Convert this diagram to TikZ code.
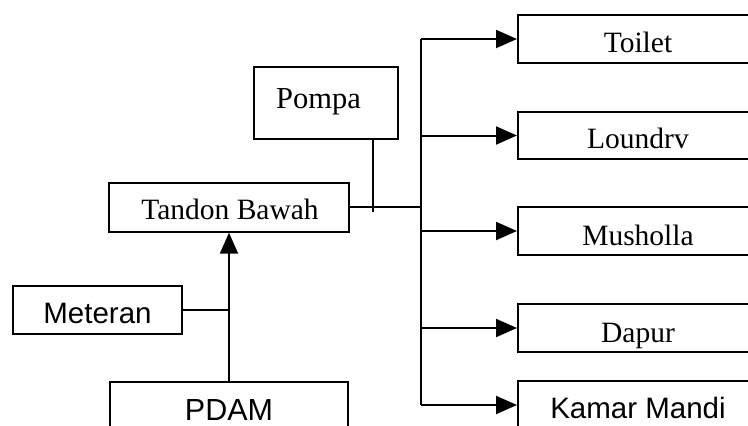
\documentclass[tikz,border=0pt]{standalone}
\usepackage{fontspec}
\setmainfont{Liberation Serif}
\newfontfamily\sansf{Liberation Sans}
\usetikzlibrary{arrows.meta}
\begin{document}
\begin{tikzpicture}[x=1pt,y=-1pt,
  box/.style={draw, line width=2pt, inner sep=0pt, rectangle},
  lbl/.style={anchor=base, inner sep=0pt, font=\fontsize{29.5}{31}\selectfont},
  slbl/.style={anchor=base, inner sep=0pt, font=\sansf\fontsize{29.5}{31}\selectfont},
  conn/.style={line width=2pt},
  arr/.style={conn, -{Triangle[length=21pt,width=18pt]}}]
\path[use as bounding box, clip] (0,0) rectangle (748,426);
\fill[white] (0,0) rectangle (748,426);

% boxes on the right (cut off by the page edge)
\node[box, minimum width=240pt, minimum height=48pt] (toilet) at (638,39) {};
\node[box, minimum width=240pt, minimum height=47.5pt] (loundry) at (638,135.5) {};
\node[box, minimum width=240pt, minimum height=48pt] (musholla) at (638,231) {};
\node[box, minimum width=240pt, minimum height=48pt] (dapur) at (638,328) {};
\node[box, minimum width=240pt, minimum height=48pt] (kamar) at (638,405) {};

% left boxes
\node[box, minimum width=144pt, minimum height=72pt] (pompa) at (326,103) {};
\node[box, minimum width=240pt, minimum height=49pt] (tandon) at (229,207.2) {};
\node[box, minimum width=169.6pt, minimum height=48.3pt] (meteran) at (97.5,310) {};
\node[box, minimum width=238pt, minimum height=48pt] (pdam) at (229,406) {};

% texts
\node[lbl] (ttoilet) at (638,52) {Toilet};
\node[lbl] (tloundry) at (638,148) {Loundrv};
\node[lbl] (tmusholla) at (638,245) {Musholla};
\node[lbl] (tdapur) at (638,342) {Dapur};
\node[slbl] (tkamar) at (638,418) {Kamar Mandi};
\node[lbl, font=\fontsize{30.5}{32}\selectfont] (tpompa) at (318.5,108) {Pompa};
\node[lbl] (ttandon) at (230,219) {Tandon Bawah};
\node[slbl] (tmeteran) at (97.5,323) {Meteran};
\node[slbl, font=\sansf\fontsize{30.5}{32}\selectfont] (tpdam) at (229,420) {PDAM};

% connectors
\coordinate (bus) at (421,207.2);
\coordinate (pj) at (373,212);
\draw[conn] (tandon.east) -- (bus);
\draw[conn] (bus |- toilet.west) -- (bus |- kamar.west);
\draw[conn] (pompa.south -| pj) -- (pj);
\foreach \n in {toilet,loundry,musholla,dapur,kamar}
  \draw[arr] (bus |- \n.west) -- (\n.west);
\draw[arr] (pdam.north) -- (tandon.south);
\draw[conn] (meteran.east) -- (meteran.east -| pdam.north);
\end{tikzpicture}
\end{document}
